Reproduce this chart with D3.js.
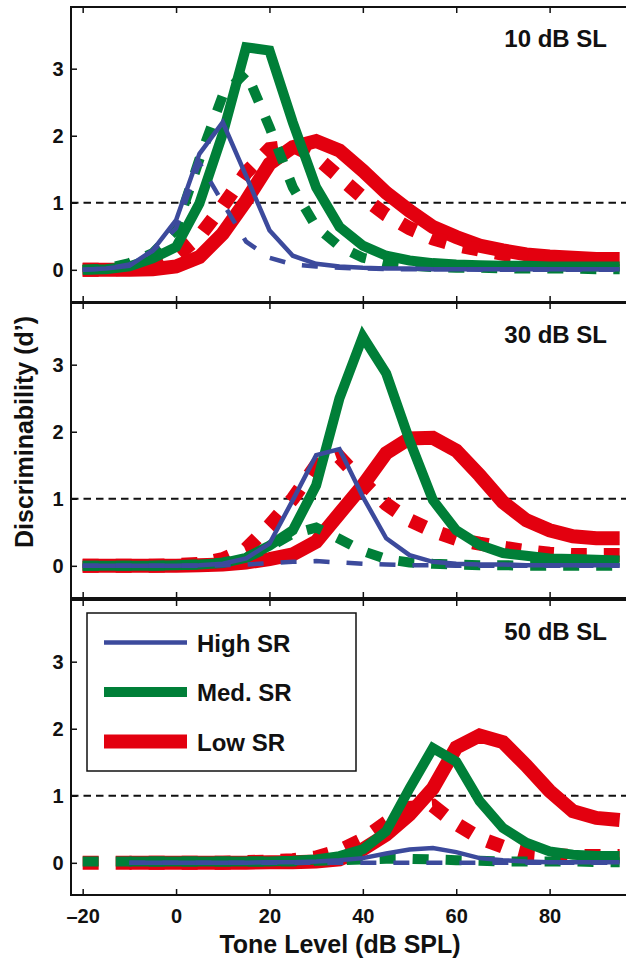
<!DOCTYPE html>
<html>
<head>
<meta charset="utf-8">
<title>Discriminability vs tone level</title>
<script src="https://cdn.jsdelivr.net/npm/d3@7"></script>
<style>
  body { margin: 0; background: #fff; }
  svg { display: block; font-family: "Liberation Sans", Arial, Helvetica, sans-serif; font-weight: bold; }
</style>
</head>
<body>
<svg width="626" height="958"></svg>
<script>
// tone levels (dB SPL), 5 dB steps
var levels = [-20, -15, -10, -5, 0, 5, 10, 15, 20, 25, 30, 35, 40, 45, 50, 55, 60, 65, 70, 75, 80, 85, 90, 95];

var panelTitles = ["10 dB SL", "30 dB SL", "50 dB SL"];
var seriesNames = ["High SR", "Med. SR", "Low SR"];
var xTicks = [-20, 0, 20, 40, 60, 80];
var yTicks = [0, 1, 2, 3];

// 10 dB SL
var high10 = [0, 0.02, 0.06, 0.29, 0.74, 1.73, 2.2, 1.4, 0.59, 0.21, 0.09, 0.05, 0.03, 0.02, 0.02, 0.01, 0.01, 0.01, 0.01, 0.01, 0.01, 0.01, 0.01, 0.01];
var high10d = [0, 0.02, 0.08, 0.28, 0.62, 1.6, 1.0, 0.42, 0.18, 0.08, 0.05, 0.03, 0.02, 0.01, 0.01, 0.01, 0.01, 0, 0, 0, 0, 0, 0, 0];
var med10 = [0, 0.01, 0.05, 0.17, 0.34, 0.99, 2.03, 3.32, 3.27, 2.2, 1.23, 0.64, 0.36, 0.21, 0.14, 0.1, 0.08, 0.07, 0.06, 0.06, 0.05, 0.05, 0.05, 0.05];
var med10d = [0, 0.02, 0.1, 0.25, 0.6, 1.65, 2.6, 2.95, 2.13, 1.23, 0.64, 0.35, 0.18, 0.1, 0.06, 0.04, 0.03, 0.03, 0.02, 0.02, 0.02, 0.02, 0.01, 0.01];
var low10 = [0, 0, 0, 0.01, 0.05, 0.19, 0.54, 1.03, 1.58, 1.83, 1.92, 1.78, 1.48, 1.15, 0.88, 0.64, 0.49, 0.36, 0.29, 0.23, 0.2, 0.18, 0.16, 0.16];
var low10d = [0, 0, 0.02, 0.06, 0.2, 0.5, 0.95, 1.45, 1.8, 1.85, 1.68, 1.38, 1.08, 0.82, 0.62, 0.47, 0.37, 0.3, 0.24, 0.2, 0.16, 0.14, 0.12, 0.12];

// 30 dB SL
var high30 = [0, 0, 0, 0, 0, 0.01, 0.03, 0.11, 0.33, 0.98, 1.65, 1.74, 1.03, 0.41, 0.16, 0.06, 0.03, 0.02, 0.02, 0.01, 0.01, 0.01, 0.01, 0.01];
var high30d = [0, 0, 0, 0, 0, 0, 0.01, 0.02, 0.04, 0.06, 0.07, 0.05, 0.03, 0.02, 0.01, 0.01, 0, 0, 0, 0, 0, 0, 0, 0];
var med30 = [0, 0, 0, 0, 0.01, 0.02, 0.04, 0.12, 0.3, 0.53, 1.2, 2.5, 3.42, 2.87, 1.87, 0.98, 0.53, 0.31, 0.19, 0.15, 0.11, 0.1, 0.09, 0.08];
var med30d = [0, 0, 0, 0, 0.01, 0.02, 0.05, 0.12, 0.28, 0.48, 0.57, 0.4, 0.22, 0.1, 0.05, 0.03, 0.02, 0.01, 0.01, 0, 0, 0, 0, 0];
var low30 = [0, 0, 0, 0, 0, 0.01, 0.02, 0.05, 0.1, 0.17, 0.36, 0.78, 1.2, 1.68, 1.9, 1.91, 1.72, 1.35, 0.95, 0.68, 0.53, 0.44, 0.41, 0.41];
var low30d = [0, 0, 0, 0, 0.01, 0.03, 0.1, 0.25, 0.6, 1.0, 1.5, 1.62, 1.25, 0.92, 0.68, 0.52, 0.4, 0.33, 0.27, 0.22, 0.18, 0.16, 0.16, 0.16];

// 50 dB SL
var high50 = [null, null, 0, 0, 0, 0, 0, 0, 0.01, 0.01, 0.02, 0.04, 0.07, 0.14, 0.2, 0.22, 0.16, 0.07, 0.04, 0.02, 0.01, 0.01, 0.01, 0.01];
var high50d = [null, null, 0, 0, 0, 0, 0, 0, 0, 0, 0, 0, 0, 0, 0, 0, 0, 0, 0, 0, 0, 0, 0, 0];
var med50 = [null, null, 0.02, 0.02, 0.02, 0.02, 0.02, 0.02, 0.02, 0.03, 0.05, 0.1, 0.2, 0.47, 1.11, 1.71, 1.51, 0.92, 0.52, 0.3, 0.17, 0.12, 0.1, 0.1];
var med50d = [0.02, 0.02, 0.02, 0.02, 0.02, 0.02, 0.02, 0.02, 0.02, 0.02, 0.03, 0.04, 0.05, 0.06, 0.06, 0.05, 0.04, 0.03, 0.02, 0.02, 0.02, 0.02, 0.01, 0.01];
var low50 = [null, null, 0, 0, 0, 0, 0, 0, 0.01, 0.01, 0.02, 0.05, 0.2, 0.42, 0.72, 1.11, 1.72, 1.9, 1.8, 1.45, 1.07, 0.77, 0.67, 0.64];
var low50d = [0, 0, 0, 0, 0, 0, 0, 0.01, 0.02, 0.04, 0.08, 0.18, 0.35, 0.6, 0.82, 0.85, 0.58, 0.37, 0.24, 0.15, 0.12, 0.1, 0.1, 0.1];

var panels = [
  { title: panelTitles[0], high: [high10, high10d], med: [med10, med10d], low: [low10, low10d] },
  { title: panelTitles[1], high: [high30, high30d], med: [med30, med30d], low: [low30, low30d] },
  { title: panelTitles[2], high: [high50, high50d], med: [med50, med50d], low: [low50, low50d] }
];

var styles = {
  high: { color: "#3c4a9c", width: 4.5 },
  med:  { color: "#007f38", width: 10 },
  low:  { color: "#e3000f", width: 14 }
};
var dashPattern = "16,17";

var svg = d3.select("svg");
var left = 71, right = 643, panelH = 295;
var panelTops = [7, 303, 600];

var x = d3.scaleLinear().domain([-22.5, 100]).range([left, right]);

svg.append("defs").selectAll("clipPath")
    .data(panelTops)
  .enter().append("clipPath")
    .attr("id", function(d, i) { return "clip" + i; })
  .append("rect")
    .attr("x", left).attr("y", function(d) { return d; })
    .attr("width", right - left).attr("height", panelH);

function fmtX(d) { return d < 0 ? "\u2013" + Math.abs(d) : "" + d; }

panels.forEach(function(p, i) {
  var top = panelTops[i];
  var y = d3.scaleLinear().domain([-0.48, 3.92]).range([top + panelH, top]);

  var line = d3.line()
      .defined(function(d) { return d[1] != null; })
      .x(function(d) { return x(d[0]); })
      .y(function(d) { return y(d[1]); });

  var g = svg.append("g");
  var plot = g.append("g").attr("clip-path", "url(#clip" + i + ")");

  // d' = 1 reference
  plot.append("line")
      .attr("x1", left).attr("x2", right)
      .attr("y1", y(1)).attr("y2", y(1))
      .attr("stroke", "#111").attr("stroke-width", 2)
      .attr("stroke-dasharray", "7.5,5");

  ["low", "med", "high"].forEach(function(key) {
    var st = styles[key];
    p[key].forEach(function(vals, j) {
      plot.append("path")
          .datum(levels.map(function(l, k) { return [l, vals[k]]; }))
          .attr("d", line)
          .attr("fill", "none")
          .attr("stroke", st.color)
          .attr("stroke-width", st.width)
          .attr("stroke-dasharray", j == 1 ? dashPattern : null);
    });
  });

  // axes, ticks inward on every side
  var axB = g.append("g").attr("transform", "translate(0," + (top + panelH) + ")")
      .call(d3.axisBottom(x).tickValues(xTicks).tickSizeInner(-6).tickSizeOuter(0)
        .tickPadding(13.5).tickFormat(i == 2 ? fmtX : function() { return ""; }));
  var axT = g.append("g").attr("transform", "translate(0," + top + ")")
      .call(d3.axisTop(x).tickValues(xTicks).tickSizeInner(-6).tickSizeOuter(0)
        .tickFormat(function() { return ""; }));
  var axL = g.append("g").attr("transform", "translate(" + left + ",0)")
      .call(d3.axisLeft(y).tickValues(yTicks).tickSizeInner(-6).tickSizeOuter(0)
        .tickPadding(7.5).tickFormat(d3.format("d")));

  [axB, axT, axL].forEach(function(a) {
    a.select(".domain").remove();
    a.selectAll(".tick line").attr("stroke", "#111").attr("stroke-width", 1.5);
    a.selectAll("text").attr("fill", "#111").style("font-size", "20px")
      .style("font-family", null).attr("font-family", null);
  });

  g.append("rect")
      .attr("x", left).attr("y", top)
      .attr("width", right - left).attr("height", panelH)
      .attr("fill", "none").attr("stroke", "#111").attr("stroke-width", 2);

  g.append("text")
      .attr("x", 607).attr("y", top + 39.5)
      .attr("text-anchor", "end")
      .style("font-size", "24px").attr("fill", "#111")
      .text(p.title);
});

// legend in the bottom panel
var legend = svg.append("g");
legend.append("rect")
    .attr("x", 87).attr("y", 613).attr("width", 269).attr("height", 158)
    .attr("fill", "#fff").attr("stroke", "#111").attr("stroke-width", 1.5);

var legendKeys = ["high", "med", "low"];
var legendY = d3.scalePoint().domain(legendKeys).range([642.5, 741.5]);
legendKeys.forEach(function(key, i) {
  var ly = legendY(key);
  legend.append("line")
      .attr("x1", 104).attr("x2", 187).attr("y1", ly).attr("y2", ly)
      .attr("stroke", styles[key].color).attr("stroke-width", styles[key].width);
  legend.append("text")
      .attr("x", 197).attr("y", ly + 9)
      .style("font-size", "24px").attr("fill", "#111")
      .text(seriesNames[i]);
});

svg.append("text")
    .attr("x", 340).attr("y", 953)
    .attr("text-anchor", "middle")
    .style("font-size", "25px").attr("fill", "#111")
    .text("Tone Level (dB SPL)");

svg.append("text")
    .attr("transform", "translate(33,432) rotate(-90)")
    .attr("text-anchor", "middle")
    .style("font-size", "25px").attr("fill", "#111")
    .text("Discriminability (d\u2019)");
</script>
</body>
</html>
